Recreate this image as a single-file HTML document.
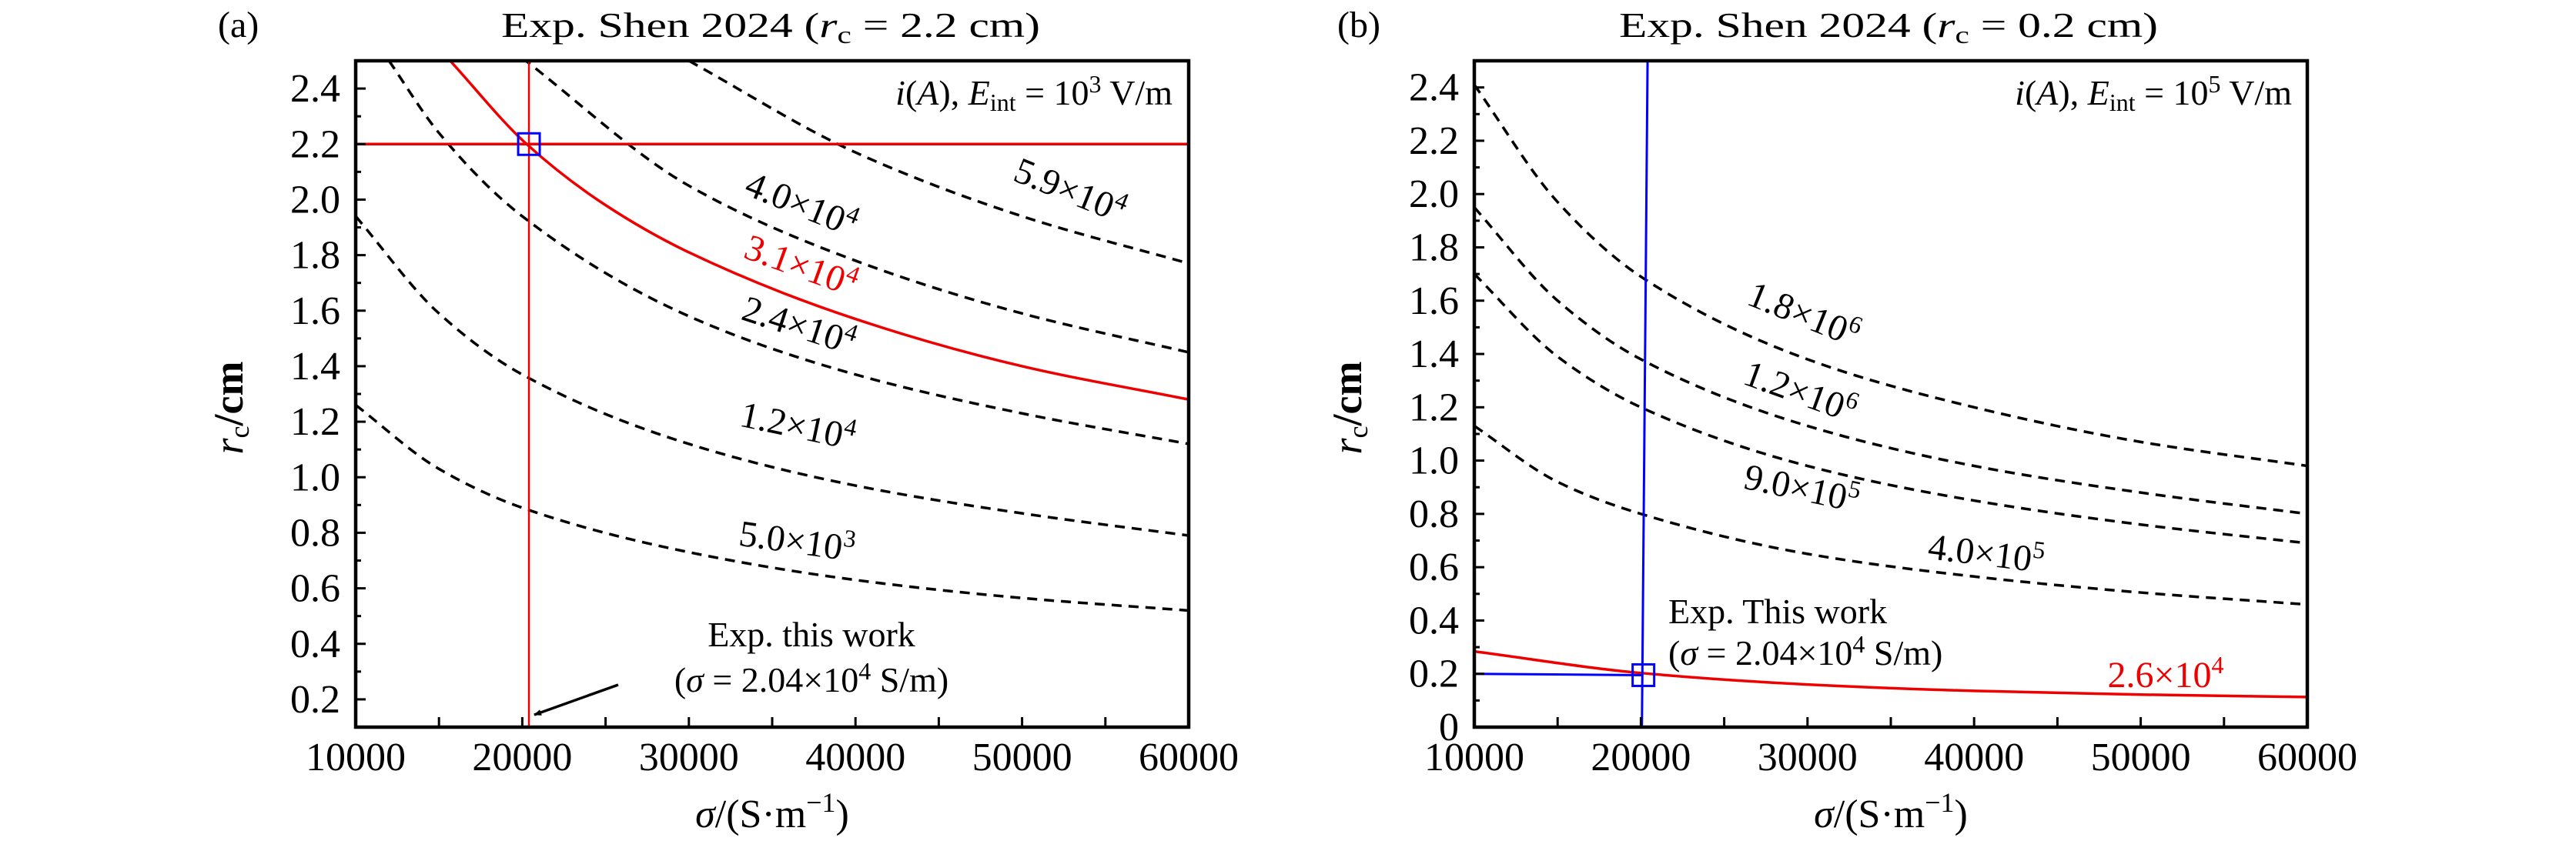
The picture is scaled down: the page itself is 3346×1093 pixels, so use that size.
<!DOCTYPE html>
<html><head><meta charset="utf-8">
<style>
html,body{margin:0;padding:0;background:#fff;}
svg{display:block;}
text{font-family:"Liberation Serif",serif;fill:#000;}
</style></head>
<body>
<svg id="fig" width="3346" height="1093" viewBox="0 0 3346 1093" xmlns="http://www.w3.org/2000/svg">
<defs>
<clipPath id="clipA"><rect x="462" y="79" width="1082" height="866"/></clipPath>
<clipPath id="clipB"><rect x="1915" y="79" width="1082" height="866"/></clipPath>
<marker id="arrowHead" markerWidth="10" markerHeight="8" refX="9" refY="4" orient="auto" markerUnits="userSpaceOnUse" viewBox="0 0 10 8">
<path d="M0,0 L10,4 L0,8 z" fill="#000"/></marker>
</defs>
<g id="panelA"></g>
<g id="panelB"></g>
</svg>
<script>
// ---------- Panel (a) data ----------
const xTicksA = [10000,20000,30000,40000,50000,60000];
const yTicksA = [0.2,0.4,0.6,0.8,1.0,1.2,1.4,1.6,1.8,2.0,2.2,2.4];
const yTickLabelsA = ["0.2","0.4","0.6","0.8","1.0","1.2","1.4","1.6","1.8","2.0","2.2","2.4"];
const a5e3Sigma = [10000,15000,20000,30000,40000,50000,60000];
const a5e3R = [1.26,1.03,0.89,0.73,0.63,0.565,0.52];
const a12e3Sigma = [10000,15000,20000,30000,40000,50000,60000];
const a12e3R = [1.94,1.59,1.37,1.12,0.97,0.87,0.79];
const a24e3Sigma = [12000,15000,20000,30000,40000,50000,60000];
const a24e3R = [2.5,2.24,1.94,1.58,1.37,1.23,1.12];
const a31e3Sigma = [15670,20260,25000,30000,40000,50000,60000];
const a31e3R = [2.5,2.2,1.98,1.81,1.57,1.40,1.28];
const a40e3Sigma = [20000,30000,40000,50000,60000];
const a40e3R = [2.51,2.05,1.78,1.59,1.45];
const a59e3Sigma = [30000,40000,50000,60000];
const a59e3R = [2.50,2.17,1.94,1.77];
const expSigmaA = 20400;
const expRA = 2.2;

// ---------- Panel (b) data ----------
const xTicksB = [10000,20000,30000,40000,50000,60000];
const yTicksB = [0,0.2,0.4,0.6,0.8,1.0,1.2,1.4,1.6,1.8,2.0,2.2,2.4];
const yTickLabelsB = ["0","0.2","0.4","0.6","0.8","1.0","1.2","1.4","1.6","1.8","2.0","2.2","2.4"];
const bSigma = [10000,15000,20000,30000,40000,50000,60000];
const b18e5R = [2.41,1.97,1.69,1.38,1.20,1.07,0.98];
const b12e5R = [1.95,1.60,1.38,1.13,0.98,0.88,0.80];
const b90e4R = [1.70,1.39,1.20,0.98,0.85,0.76,0.69];
const b40e4R = [1.13,0.92,0.80,0.65,0.565,0.505,0.46];
const bRedSigma = [10000,20000,30000,40000,50000,60000];
const bRedR = [0.284,0.203,0.160,0.136,0.122,0.113];
const blueVSigma = [20060,20400];
const expSigmaB = 20150;
const expRB = 0.195;

const NS = "http://www.w3.org/2000/svg";
function mk(parent, tag, attrs){
  const el = document.createElementNS(NS, tag);
  for (const k in attrs) el.setAttribute(k, attrs[k]);
  parent.appendChild(el);
  return el;
}
function xA(s){ return 462 + (s-10000)/50000*1082; }
function yA(r){ return 945 - (r-0.1)/2.4*866; }
function xB(s){ return 1915 + (s-10000)/50000*1082; }
function yB(r){ return 945 - r/2.5*866; }

// monotone cubic (Fritsch-Carlson) in pixel space
function smoothPath(xs, ys){
  const n = xs.length;
  const d = [], m = new Array(n);
  for (let i=0;i<n-1;i++) d.push((ys[i+1]-ys[i])/(xs[i+1]-xs[i]));
  m[0]=d[0]; m[n-1]=d[n-2];
  for (let i=1;i<n-1;i++){
    if (d[i-1]*d[i]<=0) m[i]=0;
    else { const w1=2*(xs[i+1]-xs[i])+(xs[i]-xs[i-1]), w2=(xs[i+1]-xs[i])+2*(xs[i]-xs[i-1]);
      m[i]=(w1+w2)/(w1/d[i-1]+w2/d[i]); }
  }
  let p = "M"+xs[0]+","+ys[0];
  for (let i=0;i<n-1;i++){
    const h = xs[i+1]-xs[i];
    p += " C"+(xs[i]+h/3)+","+(ys[i]+m[i]*h/3)+" "+(xs[i+1]-h/3)+","+(ys[i+1]-m[i+1]*h/3)+" "+xs[i+1]+","+ys[i+1];
  }
  return p;
}
function curve(g, sig, r, fx, fy, color, dashed, clip, name){
  const el = mk(g,"path",{d:smoothPath(sig.map(fx), r.map(fy)), fill:"none", stroke:color, "stroke-width":3.5, "clip-path":"url(#"+clip+")"});
  if (dashed) el.setAttribute("stroke-dasharray","13 9");
  
  
  return el;
}
function label(g, x, y, rot, mant, exp, color, name){
  const t = mk(g,"text",{x:x, y:y, "font-size":48, "text-anchor":"middle", transform:"rotate("+rot+" "+x+" "+y+")", fill:color});
  
  
  t.style.fill = color;
  const a = mk(t,"tspan",{}); a.textContent = mant+"×10";
  const b = mk(t,"tspan",{"font-size":32, dy:-18}); b.textContent = exp;
  return t;
}
function axes(g, left, fx, fy, xt, yt, ytl, yMin, yMax, minorY, ylabelX, titleX, panelLetterX, letter, titleVal){
  for (let s=10000; s<=60000; s+=5000){
    const tk = mk(g,"line",{x1:fx(s),x2:fx(s),y1:945,y2:932,stroke:"#000","stroke-width":3});
    
    
  }
  xt.forEach(v=>{
    const t = mk(g,"text",{x:fx(v), y:1001, "font-size":52, "text-anchor":"middle"});
    t.textContent = String(v);
    
    
  });
  for (let r=minorY; r<=yMax+1e-9; r+=0.1){
    const major = Math.abs(Math.round(r*10)%2)===0;
    const tk = mk(g,"line",{x1:left,x2:left+(major?13:7),y1:fy(r),y2:fy(r),stroke:"#000","stroke-width":3});
    
    
  }
  yt.forEach((v,i)=>{
    const t = mk(g,"text",{x:left-20, y:fy(v)+17, "font-size":52, "text-anchor":"end"});
    t.textContent = ytl[i];
    
    
  });
  const fr = mk(g,"rect",{x:left,y:79,width:1082,height:866,fill:"none",stroke:"#000","stroke-width":4.5});
  
  
  const yl = mk(g,"text",{x:ylabelX, y:530, "font-size":54, "text-anchor":"middle", transform:"rotate(-90 "+ylabelX+" 530)"});
  
  
  const y1 = mk(yl,"tspan",{"font-style":"italic"}); y1.textContent="r";
  const y2 = mk(yl,"tspan",{"font-size":36, dy:8}); y2.textContent="c";
  const y3 = mk(yl,"tspan",{dy:-8, "font-weight":"bold"}); y3.textContent="/cm";
  const xl = mk(g,"text",{x:left+541, y:1075, "font-size":52, "text-anchor":"middle"});
  
  
  const x1 = mk(xl,"tspan",{"font-style":"italic"}); x1.textContent="σ";
  const x2 = mk(xl,"tspan",{}); x2.textContent="/(S·m";
  const x3 = mk(xl,"tspan",{"font-size":36, dy:-20}); x3.textContent="−1";
  const x4 = mk(xl,"tspan",{dy:20}); x4.textContent=")";
  const pl = mk(g,"text",{x:panelLetterX, y:48, "font-size":48});
  pl.textContent = "("+letter+")";
  
  
  const tt = mk(g,"text",{x:titleX, y:48, "font-size":46, "text-anchor":"middle", textLength:700, lengthAdjust:"spacingAndGlyphs"});
  
  
  const t1 = mk(tt,"tspan",{}); t1.textContent="Exp. Shen 2024 (";
  const t2 = mk(tt,"tspan",{"font-style":"italic"}); t2.textContent="r";
  const t3 = mk(tt,"tspan",{"font-size":32, dy:8}); t3.textContent="c";
  const t4 = mk(tt,"tspan",{dy:-8}); t4.textContent=" = "+titleVal+" cm)";
}
function annot(g, x, y, exp){
  const t = mk(g,"text",{x:x, y:y, "font-size":46, "text-anchor":"end"});
  
  
  const a = mk(t,"tspan",{"font-style":"italic"}); a.textContent="i";
  const b = mk(t,"tspan",{}); b.textContent="(";
  const c = mk(t,"tspan",{"font-style":"italic"}); c.textContent="A";
  const d = mk(t,"tspan",{}); d.textContent="), ";
  const e = mk(t,"tspan",{"font-style":"italic"}); e.textContent="E";
  const f = mk(t,"tspan",{"font-size":32, dy:8}); f.textContent="int";
  const h = mk(t,"tspan",{dy:-8}); h.textContent=" = 10";
  const i = mk(t,"tspan",{"font-size":32, dy:-16}); i.textContent=exp;
  const j = mk(t,"tspan",{dy:16}); j.textContent=" V/m";
}
function expText(g, x, y1, y2, anchor, first){
  const t = mk(g,"text",{x:x, y:y1, "font-size":46, "text-anchor":anchor});
  t.textContent = first;
  
  
  const u = mk(g,"text",{x:x, y:y2, "font-size":46, "text-anchor":anchor});
  
  
  const a = mk(u,"tspan",{}); a.textContent="(";
  const b = mk(u,"tspan",{"font-style":"italic"}); b.textContent="σ";
  const c = mk(u,"tspan",{}); c.textContent=" = 2.04×10";
  const d = mk(u,"tspan",{"font-size":32, dy:-16}); d.textContent="4";
  const e = mk(u,"tspan",{dy:16}); e.textContent=" S/m)";
}

// ---------- draw panel (a) ----------
const gA = document.getElementById("panelA");
curve(gA, a5e3Sigma, a5e3R, xA, yA, "#000", true, "clipA", "curve-5.0e3");
curve(gA, a12e3Sigma, a12e3R, xA, yA, "#000", true, "clipA", "curve-1.2e4");
curve(gA, a24e3Sigma, a24e3R, xA, yA, "#000", true, "clipA", "curve-2.4e4");
curve(gA, a40e3Sigma, a40e3R, xA, yA, "#000", true, "clipA", "curve-4.0e4");
curve(gA, a59e3Sigma, a59e3R, xA, yA, "#000", true, "clipA", "curve-5.9e4");
curve(gA, a31e3Sigma, a31e3R, xA, yA, "#e00", false, "clipA", "curve-3.1e4");
let el = mk(gA,"line",{x1:462,x2:1544,y1:yA(expRA),y2:yA(expRA),stroke:"#e00","stroke-width":3.5});


el = mk(gA,"line",{x1:xA(expSigmaA),x2:xA(expSigmaA),y1:79,y2:945,stroke:"#e00","stroke-width":2.5});


el = mk(gA,"rect",{x:xA(expSigmaA)-14,y:yA(expRA)-14,width:28,height:28,fill:"none",stroke:"#00f","stroke-width":3});


axes(gA, 462, xA, yA, xTicksA, yTicksA, yTickLabelsA, 0.1, 2.5, 0.2, 315, 1001, 283, "a", "2.2");
annot(gA, 1523, 136, "3");
label(gA, 1384, 262, 22, "5.9", "4", "#000", "label-5.9e4");
label(gA, 1035, 280, 22, "4.0", "4", "#000", "label-4.0e4");
label(gA, 1035, 360, 20, "3.1", "4", "#e00", "label-3.1e4");
label(gA, 1033, 438, 18, "2.4", "4", "#000", "label-2.4e4");
label(gA, 1033, 569, 12, "1.2", "4", "#000", "label-1.2e4");
label(gA, 1033, 719, 8, "5.0", "3", "#000", "label-5.0e3");
expText(gA, 1054, 840, 899, "middle", "Exp. this work");
el = mk(gA,"line",{x1:803,y1:890,x2:694,y2:929,stroke:"#000","stroke-width":3.5,"marker-end":"url(#arrowHead)"});



// ---------- draw panel (b) ----------
const gB = document.getElementById("panelB");
curve(gB, bSigma, b18e5R, xB, yB, "#000", true, "clipB", "curve-1.8e6");
curve(gB, bSigma, b12e5R, xB, yB, "#000", true, "clipB", "curve-1.2e6");
curve(gB, bSigma, b90e4R, xB, yB, "#000", true, "clipB", "curve-9.0e5");
curve(gB, bSigma, b40e4R, xB, yB, "#000", true, "clipB", "curve-4.0e5");
curve(gB, bRedSigma, bRedR, xB, yB, "#e00", false, "clipB", "curve-2.6e4");
el = mk(gB,"line",{x1:xB(blueVSigma[0]),x2:xB(blueVSigma[1]),y1:945,y2:79,stroke:"#00f","stroke-width":3});


el = mk(gB,"line",{x1:1915,x2:xB(expSigmaB),y1:yB(0.2),y2:yB(expRB),stroke:"#00f","stroke-width":3});


el = mk(gB,"rect",{x:xB(expSigmaB)-14,y:yB(expRB)-14,width:28,height:28,fill:"none",stroke:"#00f","stroke-width":3});


axes(gB, 1915, xB, yB, xTicksB, yTicksB, yTickLabelsB, 0, 2.5, 0.1, 1768, 2453, 1737, "b", "0.2");
annot(gB, 2977, 136, "5");
label(gB, 2337, 423, 22, "1.8", "6", "#000", "label-1.8e6");
label(gB, 2333, 524, 20, "1.2", "6", "#000", "label-1.2e6");
label(gB, 2337, 650, 12, "9.0", "5", "#000", "label-9.0e5");
label(gB, 2578, 735, 7, "4.0", "5", "#000", "label-4.0e5");
label(gB, 2813, 893, 0, "2.6", "4", "#e00", "label-2.6e4");
expText(gB, 2167, 810, 864, "start", "Exp. This work");
</script>
</body></html>
